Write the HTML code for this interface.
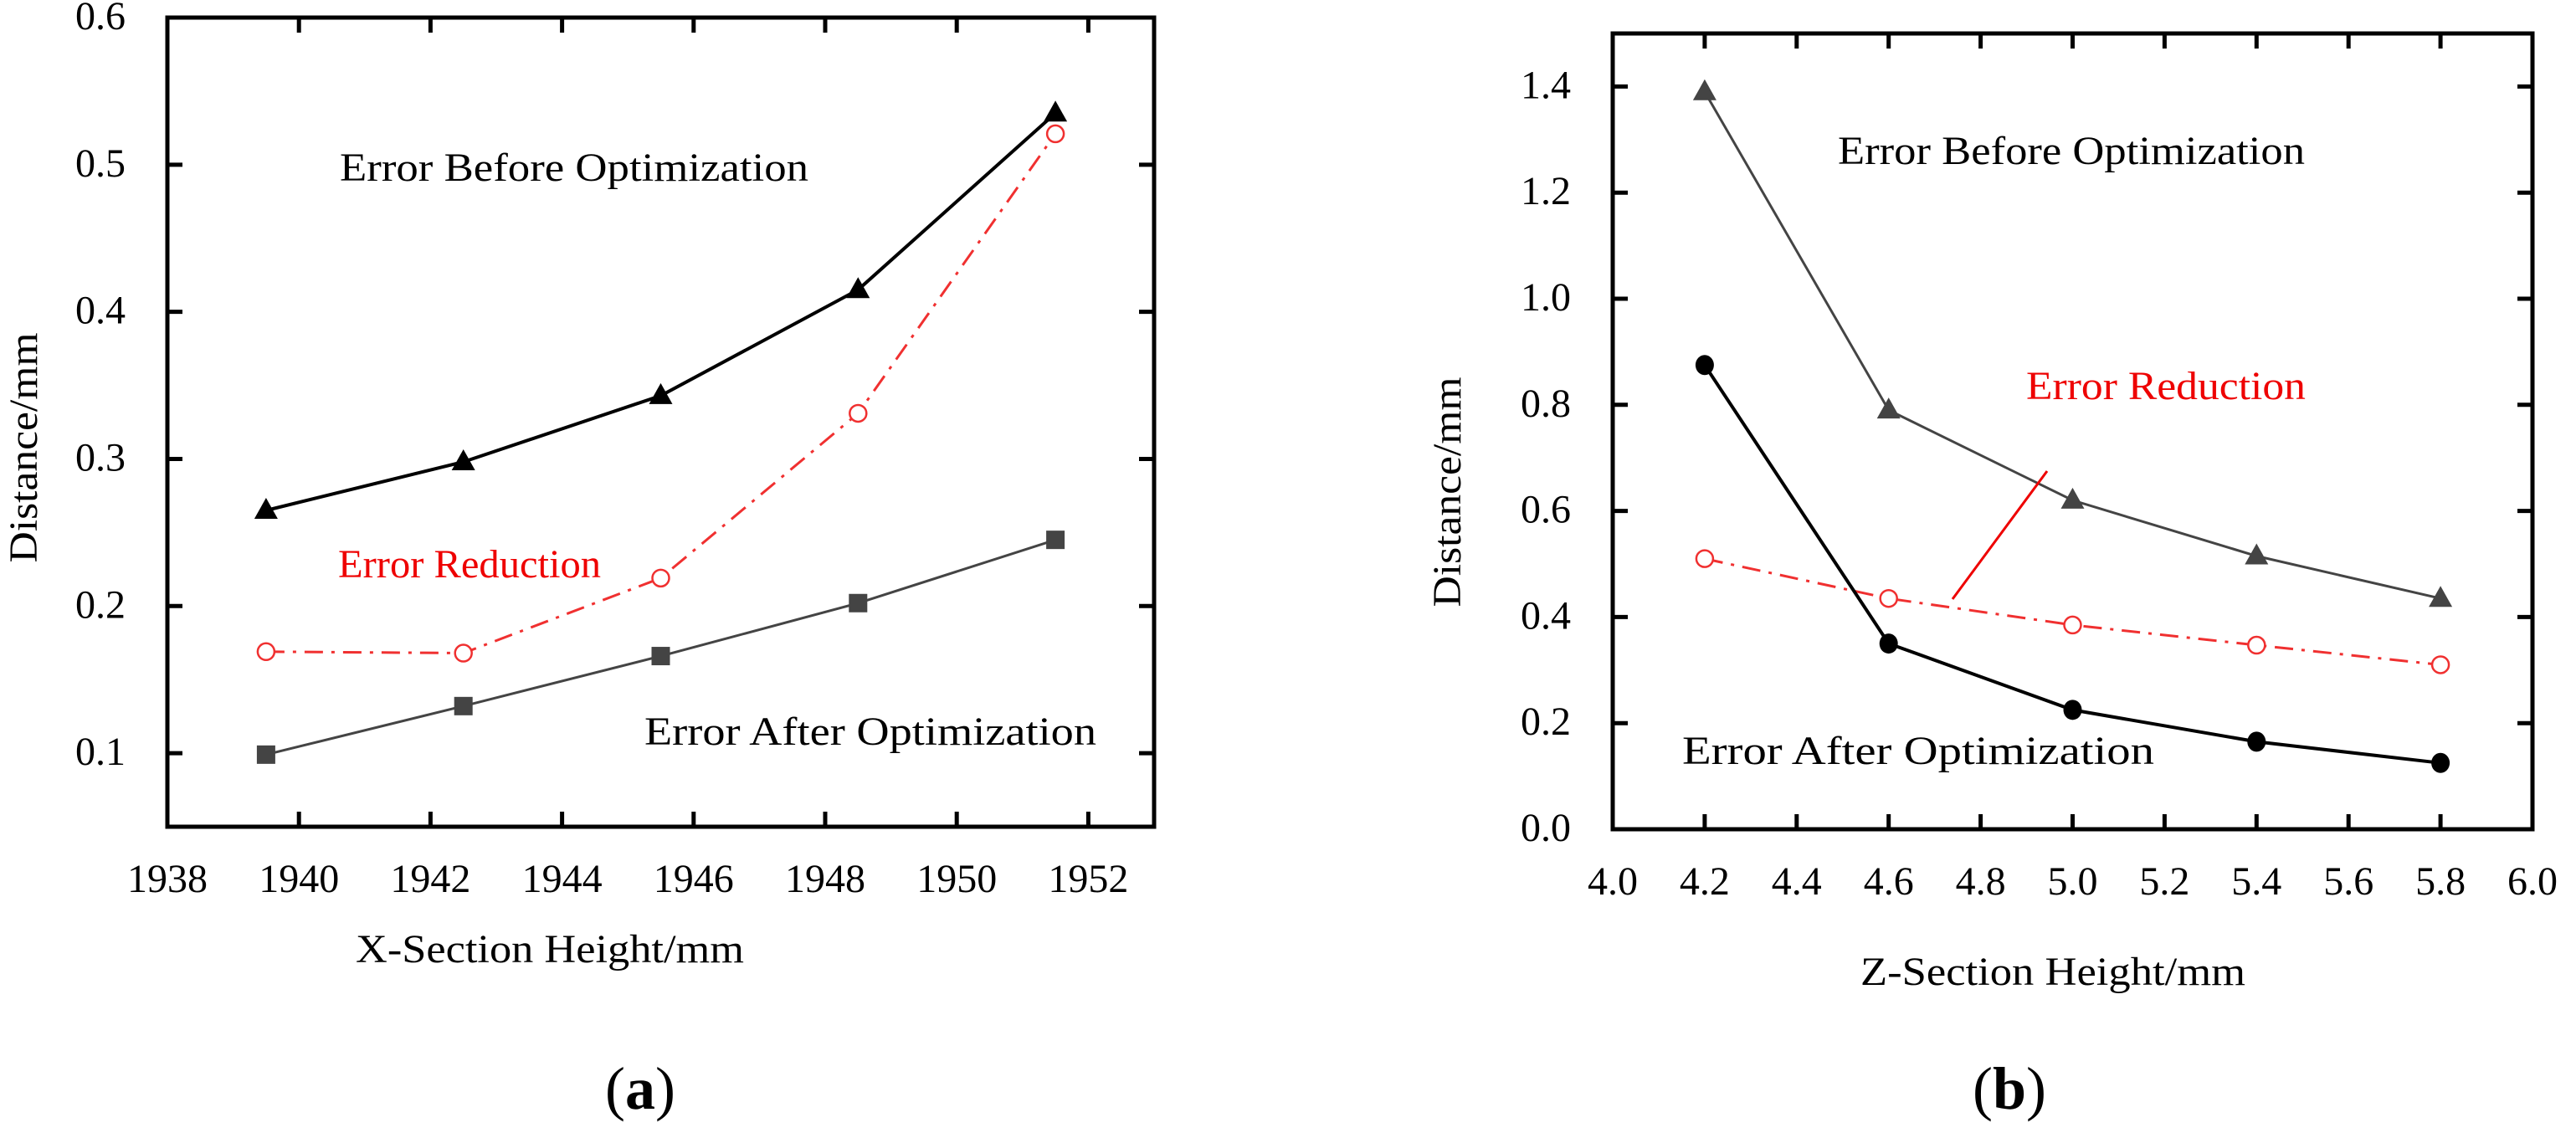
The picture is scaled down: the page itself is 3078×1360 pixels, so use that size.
<!DOCTYPE html>
<html><head><meta charset="utf-8"><style>
html,body{margin:0;padding:0;background:#fff;}
svg{display:block;}
text{font-family:"Liberation Serif",serif;}
</style></head><body>
<svg id="fig" width="3078" height="1360" viewBox="0 0 3078 1360" xmlns="http://www.w3.org/2000/svg">
<g id="chartA"></g>
<g id="chartB"></g>
<text x="765" y="1325" font-size="72" text-anchor="middle">(<tspan font-weight="bold">a</tspan>)</text>
<text x="2401" y="1325" font-size="72" text-anchor="middle">(<tspan font-weight="bold">b</tspan>)</text>
</svg>
<script>
// Chart A data
const aX = [1939.5, 1942.5, 1945.5, 1948.5, 1951.5];
const aBefore = [0.265, 0.298, 0.343, 0.415, 0.535];
const aReduction = [0.169, 0.168, 0.219, 0.331, 0.521];
const aAfter = [0.099, 0.132, 0.166, 0.202, 0.245];
const aXTicks = [1938, 1940, 1942, 1944, 1946, 1948, 1950, 1952];
const aYTicks = [0.1, 0.2, 0.3, 0.4, 0.5, 0.6];
// Chart B data
const bX = [4.2, 4.6, 5.0, 5.4, 5.8];
const bBefore = [1.39, 0.79, 0.62, 0.515, 0.435];
const bReduction = [0.51, 0.435, 0.385, 0.347, 0.31];
const bAfter = [0.875, 0.35, 0.225, 0.165, 0.125];
const bXTicks = [4.0, 4.2, 4.4, 4.6, 4.8, 5.0, 5.2, 5.4, 5.6, 5.8, 6.0];
const bYTicks = [0.0, 0.2, 0.4, 0.6, 0.8, 1.0, 1.2, 1.4];

const NS = "http://www.w3.org/2000/svg";
function mk(parent, tag, attrs, text){
  const e = document.createElementNS(NS, tag);
  for (const k in attrs) e.setAttribute(k, attrs[k]);
  if (text !== undefined) e.textContent = text;
  parent.appendChild(e);
  return e;
}

function drawChart(g, cfg){
  const sx = v => cfg.L + (v - cfg.x0) / (cfg.x1 - cfg.x0) * (cfg.R - cfg.L);
  const sy = v => cfg.B - (v - cfg.y0) / (cfg.y1 - cfg.y0) * (cfg.B - cfg.T);
  cfg.series.forEach(s => {
    const pts = cfg.xs.map((x, i) => sx(x).toFixed(1) + "," + sy(s.ys[i]).toFixed(1)).join(" ");
    const pl = mk(g, "polyline", {points: pts, fill: "none", stroke: s.color, "stroke-width": s.w});
    
    
    if (s.dash) pl.setAttribute("stroke-dasharray", s.dash);
    cfg.xs.forEach((x, i) => {
      const cx = sx(x), cy = sy(s.ys[i]);
      let m;
      if (s.marker === "tri") {
        m = mk(g, "polygon", {points: `${cx},${cy-15} ${cx-14},${cy+10} ${cx+14},${cy+10}`, fill: s.color});
      } else if (s.marker === "sq") {
        m = mk(g, "rect", {x: cx-11, y: cy-11, width: 22, height: 22, fill: s.color});
      } else if (s.marker === "dot") {
        m = mk(g, "ellipse", {cx: cx, cy: cy, rx: 11, ry: 12, fill: s.color});
      } else {
        m = mk(g, "circle", {cx: cx, cy: cy, r: 10, fill: "#fff", stroke: s.color, "stroke-width": 2.5});
      }
      
      
    });
  });
  const fr = mk(g, "rect", {x: cfg.L, y: cfg.T, width: cfg.R - cfg.L, height: cfg.B - cfg.T, fill: "none", stroke: "#000", "stroke-width": 5});
  
  
  cfg.xt.forEach(v => {
    const x = sx(v);
    if (Math.abs(x - cfg.L) > 3 && Math.abs(x - cfg.R) > 3) {
      mk(g, "line", {x1: x, y1: cfg.B, x2: x, y2: cfg.B - 18, stroke: "#000", "stroke-width": 5});
      mk(g, "line", {x1: x, y1: cfg.T, x2: x, y2: cfg.T + 18, stroke: "#000", "stroke-width": 5});
    }
    const t = mk(g, "text", {x: x, y: cfg.B + 78, "font-size": 48, "text-anchor": "middle"}, cfg.xfmt(v));
    
    
  });
  cfg.yt.forEach(v => {
    const y = sy(v);
    if (Math.abs(y - cfg.T) > 3 && Math.abs(y - cfg.B) > 3) {
      mk(g, "line", {x1: cfg.L, y1: y, x2: cfg.L + 18, y2: y, stroke: "#000", "stroke-width": 5});
      mk(g, "line", {x1: cfg.R, y1: y, x2: cfg.R - 18, y2: y, stroke: "#000", "stroke-width": 5});
    }
    const t = mk(g, "text", {x: cfg.L - 50, y: y + 14, "font-size": 48, "text-anchor": "end"}, v.toFixed(1));
    
    
  });
  const xt = mk(g, "text", {x: cfg.xTitle[0], y: cfg.xTitle[1], "font-size": 48, textLength: cfg.xTitle[2], lengthAdjust: "spacingAndGlyphs"}, cfg.xTitleText);
  
  
  const yt = mk(g, "text", {x: 0, y: 0, "font-size": 48, "text-anchor": "middle", textLength: 275, lengthAdjust: "spacingAndGlyphs", transform: `translate(${cfg.yTitle[0]},${cfg.yTitle[1]}) rotate(-90)`}, "Distance/mm");
  
  
  cfg.notes.forEach(n => {
    const t = mk(g, "text", {x: n[0], y: n[1], "font-size": 48, fill: n[3], textLength: n[5], lengthAdjust: "spacingAndGlyphs"}, n[2]);
    
    
  });
  return {sx, sy};
}

drawChart(document.getElementById("chartA"), {
  L: 200, R: 1379, T: 21, B: 988, x0: 1938, x1: 1953, y0: 0.05, y1: 0.6,
  xs: aX, xt: aXTicks, yt: aYTicks, xfmt: v => String(v),
  series: [
    {name: "error-before", ys: aBefore, color: "#000", w: 4, marker: "tri"},
    {name: "error-reduction", ys: aReduction, color: "#f03030", w: 3, marker: "circ", dash: "22 10 4 10"},
    {name: "error-after", ys: aAfter, color: "#444", w: 3, marker: "sq"}
  ],
  xTitle: [425, 1150, 464], xTitleText: "X-Section Height/mm", yTitle: [44, 535],
  notes: [[406, 216, "Error Before Optimization", "#000", "before-annotation", 560],
          [404, 690, "Error Reduction", "#e00", "reduction-annotation", 314],
          [770, 890, "Error After Optimization", "#000", "after-annotation", 540]]
});

drawChart(document.getElementById("chartB"), {
  L: 1927, R: 3026, T: 40, B: 991, x0: 4.0, x1: 6.0, y0: 0.0, y1: 1.5,
  xs: bX, xt: bXTicks, yt: bYTicks, xfmt: v => v.toFixed(1),
  series: [
    {name: "error-before", ys: bBefore, color: "#444", w: 3, marker: "tri"},
    {name: "error-reduction", ys: bReduction, color: "#f03030", w: 3, marker: "circ", dash: "22 10 4 10"},
    {name: "error-after", ys: bAfter, color: "#000", w: 4, marker: "dot"}
  ],
  xTitle: [2223, 1177, 460], xTitleText: "Z-Section Height/mm", yTitle: [1745, 588],
  notes: [[2196, 196, "Error Before Optimization", "#000", "before-annotation", 558],
          [2421, 477, "Error Reduction", "#e00", "reduction-annotation", 334],
          [2010, 913, "Error After Optimization", "#000", "after-annotation", 564]]
});
const pointer = mk(document.getElementById("chartB"), "line", {x1: 2333, y1: 716, x2: 2446, y2: 563, stroke: "#e00", "stroke-width": 3});


</script>
</body></html>
